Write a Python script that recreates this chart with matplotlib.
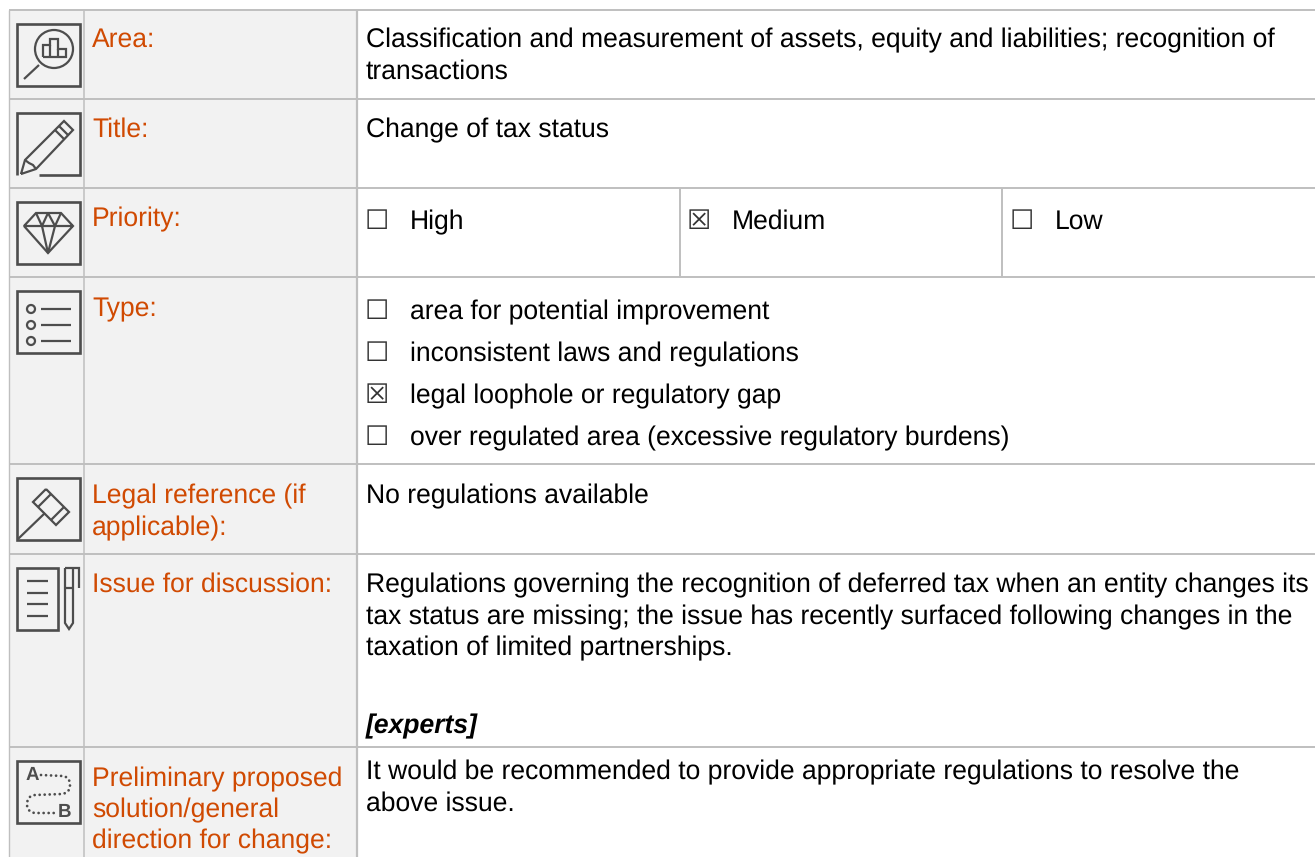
import matplotlib
matplotlib.use('Agg')
import matplotlib.pyplot as plt
from matplotlib.patches import Rectangle, Circle, PathPatch
from matplotlib.path import Path

# table content
labels = ['Area:', 'Title:', 'Priority:', 'Type:', 'Legal reference (if', 'applicable):',
          'Issue for discussion:', 'Preliminary proposed', 'solution/general', 'direction for change:']
label_y = [47, 137, 226, 316, 503, 535, 592, 786, 817, 848]

body = ['Classification and measurement of assets, equity and liabilities; recognition of',
        'transactions', 'Change of tax status', 'No regulations available',
        'Regulations governing the recognition of deferred tax when an entity changes its',
        'tax status are missing; the issue has recently surfaced following changes in the',
        'taxation of limited partnerships.',
        'It would be recommended to provide appropriate regulations to resolve the',
        'above issue.']
body_y = [47, 79, 137, 503, 592, 624, 655, 779, 811]

priorities = ['High', 'Medium', 'Low']
priority_checked = [False, True, False]
priority_x = [368, 690, 1013]

types = ['area for potential improvement', 'inconsistent laws and regulations',
         'legal loophole or regulatory gap', 'over regulated area (excessive regulatory burdens)']
types_checked = [False, False, True, False]
types_y = [319, 361, 403, 445]

row_lines = [10, 99, 188, 277, 464, 554, 747]
col_lines = [9, 84, 357]
col_widths = [1.0, 1.1, 1.6]
priority_cols = [680, 1002]

ORANGE = '#D04A02'
GRID = '#BFBFBF'
ICON = '#4D4D4D'
FS = 19.1
LW = 1.6

plt.rcParams['font.family'] = ['Liberation Sans', 'DejaVu Sans']
plt.rcParams['text.hinting'] = 'no_hinting'

fig = plt.figure(figsize=(13.15, 8.57), dpi=100)
ax = fig.add_axes([0, 0, 1, 1])
ax.set_xlim(0, 1315)
ax.set_ylim(857, 0)
ax.axis('off')

# grey left columns
ax.add_patch(Rectangle((9, 10), 348, 847, fc='#F2F2F2', ec='none', zorder=0))

for y in row_lines:
    ax.plot([9, 1315], [y, y], color=GRID, lw=1.4, zorder=1, solid_capstyle='butt')
for x, w in zip(col_lines, col_widths):
    ax.plot([x, x], [10, 857], color=GRID, lw=w, zorder=1, solid_capstyle='butt')
for x in priority_cols:
    ax.plot([x, x], [188, 277], color=GRID, lw=1.4, zorder=1, solid_capstyle='butt')

for t, y in zip(labels, label_y):
    ax.text(92, y, t, color=ORANGE, fontsize=FS, va='baseline')
for t, y in zip(body, body_y):
    ax.text(366, y, t, color='black', fontsize=FS, va='baseline')
ax.text(366, 733, '[experts]', color='black', fontsize=FS, va='baseline',
        fontweight='bold', fontstyle='italic')


def box_mark(x, y, checked):
    ax.text(x - 3, y, '\u2612' if checked else '\u2610', color='#333333', fontsize=19.5,
            va='baseline', family='DejaVu Sans')


for t, x, c in zip(priorities, priority_x, priority_checked):
    box_mark(x, 229, c)
    ax.text(x + 42, 229, t, color='black', fontsize=FS, va='baseline')
for t, y, c in zip(types, types_y, types_checked):
    box_mark(368, y, c)
    ax.text(410, y, t, color='black', fontsize=FS, va='baseline')


# icons
def line(pts, lw=LW):
    ax.plot([p[0] for p in pts], [p[1] for p in pts], color=ICON, lw=lw,
            solid_joinstyle='miter', solid_capstyle='butt', zorder=3)


def square(y):
    ax.add_patch(Rectangle((17.5, y), 62.5, 62, fc='none', ec=ICON, lw=LW + 0.3, zorder=3))


# magnifier
square(24)
ax.add_patch(Circle((54, 49), 19, fc='none', ec=ICON, lw=LW, zorder=3))
line([(39, 65), (24, 79)])
line([(43, 57), (43, 45), (50, 45), (50, 39), (58, 39), (58, 49), (66, 49), (66, 57), (43, 57)])
line([(50, 45), (50, 57)])
line([(58, 49), (58, 57)])

# pencil
line([(17.5, 175), (17.5, 113), (80, 113), (80, 175), (39, 175)], LW + 0.3)
line([(21, 174), (25, 160), (64, 121), (73, 130), (36, 169), (21, 174)])
line([(25, 160), (29, 163), (33, 165), (36, 169)])
line([(55, 130), (64, 139)])
line([(59, 126), (68, 135)])

# diamond
square(202)
line([(24, 226), (36, 213), (61, 213), (73, 226), (48, 253), (24, 226), (73, 226)])
line([(36, 213), (42, 226), (48, 213), (55, 226), (61, 213)])
line([(42, 226), (48, 253), (55, 226)])

# list
square(291)
for y in [309, 325, 341]:
    ax.add_patch(Circle((31, y), 4, fc='none', ec=ICON, lw=LW, zorder=3))
    line([(41, y), (71, y)])

# hammer
square(478)
line([(18, 539), (45, 513)])
line([(46, 489), (69, 512), (56, 525), (33, 502), (46, 489)])
line([(38, 507), (51, 494)])
line([(51, 520), (64, 507)])

# document and pen
ax.add_patch(Rectangle((17.5, 568), 41, 62, fc='none', ec=ICON, lw=LW + 0.3, zorder=3))
for y in [581, 593, 604, 616]:
    line([(27, y), (48, y)])
line([(65, 568), (65, 623), (69, 629), (73, 623), (73, 568)])
line([(65, 568), (79, 568), (79, 588)])
line([(65, 588), (73, 588)])

# route A to B
square(761)
ax.text(32, 775, 'A', color=ICON, fontsize=13.5, fontweight='bold', ha='center', va='center')
ax.text(65, 812, 'B', color=ICON, fontsize=13.5, fontweight='bold', ha='center', va='center')
route = Path([(41, 775), (63, 776), (70, 777), (70, 785), (70, 793), (62, 794), (35, 795),
              (27, 796), (27, 804), (27, 813), (36, 813), (58, 813)],
             [Path.MOVETO, Path.LINETO, Path.CURVE3, Path.CURVE3, Path.CURVE3, Path.CURVE3, Path.LINETO,
              Path.CURVE3, Path.CURVE3, Path.CURVE3, Path.CURVE3, Path.LINETO])
ax.add_patch(PathPatch(route, fc='none', ec=ICON, lw=2.0, ls=(0, (0.01, 1.8)),
                       capstyle='round', zorder=3))

fig.savefig('out.png', dpi=100)
